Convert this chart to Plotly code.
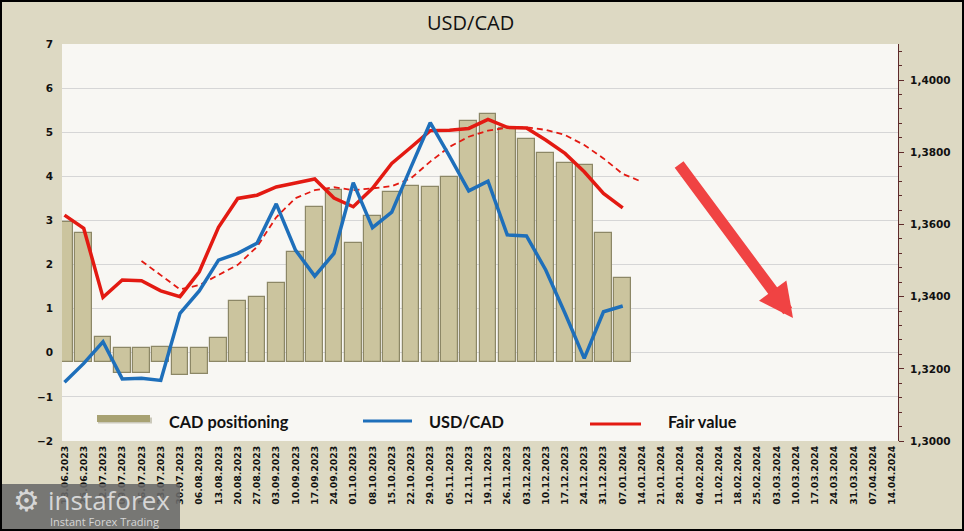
import plotly.graph_objects as go

# ---------------- data ----------------
dates = ["18.06.2023", "25.06.2023", "02.07.2023", "09.07.2023", "16.07.2023", "23.07.2023",
         "30.07.2023", "06.08.2023", "13.08.2023", "20.08.2023", "27.08.2023", "03.09.2023",
         "10.09.2023", "17.09.2023", "24.09.2023", "01.10.2023", "08.10.2023", "15.10.2023",
         "22.10.2023", "29.10.2023", "05.11.2023", "12.11.2023", "19.11.2023", "26.11.2023",
         "03.12.2023", "10.12.2023", "17.12.2023", "24.12.2023", "31.12.2023", "07.01.2024",
         "14.01.2024", "21.01.2024", "28.01.2024", "04.02.2024", "11.02.2024", "18.02.2024",
         "25.02.2024", "03.03.2024", "10.03.2024", "17.03.2024", "24.03.2024", "31.03.2024",
         "07.04.2024", "14.04.2024"]

cad_positioning = [2.97, 2.72, 0.36, -0.46, -0.46, 0.14, -0.50, -0.48, 0.34, 1.18,
                   1.27, 1.59, 2.28, 3.30, 3.69, 2.48, 3.09, 3.65, 3.78, 3.75,
                   3.99, 5.26, 5.41, 5.09, 4.84, 4.52, 4.30, 4.25, 2.72, 1.70]

usdcad = [1.3163, 1.3215, 1.3275, 1.3172, 1.3174, 1.3168, 1.3354, 1.3416, 1.3501, 1.3520,
          1.3548, 1.3657, 1.3529, 1.3457, 1.3520, 1.3716, 1.3591, 1.3634, 1.3759, 1.3882,
          1.3789, 1.3693, 1.3720, 1.3571, 1.3568, 1.3474, 1.3354, 1.3229, 1.3358, 1.3374]

fair_value = [1.3626, 1.3589, 1.3398, 1.3446, 1.3444, 1.3416, 1.3400, 1.3469, 1.3592, 1.3672,
              1.3681, 1.3704, 1.3715, 1.3726, 1.3673, 1.3649, 1.3700, 1.3769, 1.3814, 1.3860,
              1.3861, 1.3866, 1.3891, 1.3869, 1.3867, 1.3834, 1.3797, 1.3746, 1.3686, 1.3646]

# moving average of fair value (dashed), from 16.07.2023 to 14.01.2024
fair_avg = [1.3499, 1.3459, 1.3420, 1.3432, 1.3460, 1.3488, 1.3538, 1.3620, 1.3673, 1.3695,
            1.3703, 1.3695, 1.3700, 1.3706, 1.3728, 1.3774, 1.3815, 1.3843, 1.3860, 1.3868,
            1.3869, 1.3862, 1.3848, 1.3820, 1.3783, 1.3740, 1.3718]
fair_avg_start = 4

left_ticks = [-2, -1, 0, 1, 2, 3, 4, 5, 6, 7]
right_ticks = [1.30, 1.32, 1.34, 1.36, 1.38, 1.40]

# ---------------- style ----------------
W, H = 964, 531
PL, PR, PT, PB = 62, 898, 44, 441
PAPER_BG = "#DDD9C3"
PLOT_BG = "#F8F7F3"
BAR_FILL = "#CBC49E"
BAR_EDGE = "#8C8766"
BLUE = "#1E6FBA"
RED = "#E31A12"
AXIS_COL = "#5E2A2A"
TICK_FONT = dict(family="DejaVu Sans, Verdana", size=10.5, color="#111111", weight="bold")


def px(x):
    return (x - PL) / (PR - PL)


def py(y):
    return (PB - y) / (PB - PT)


# 3D-look bars: positive bars rise from a floor slightly below zero,
# negative bars hang from slightly above zero
bar_bases = [-0.2 if v >= 0 else 0.1 for v in cad_positioning]
bar_heights = [v - b for v, b in zip(cad_positioning, bar_bases)]

fig = go.Figure()

fig.add_trace(go.Bar(
    x=dates[:len(cad_positioning)], y=bar_heights, base=bar_bases,
    width=0.88, name="CAD positioning",
    marker=dict(color=BAR_FILL, line=dict(color=BAR_EDGE, width=1.2)),
    yaxis="y", showlegend=False,
))

fig.add_trace(go.Scatter(
    x=dates[fair_avg_start:fair_avg_start + len(fair_avg)], y=fair_avg,
    mode="lines", line=dict(color=RED, width=1.8, dash="6px,4px"),
    yaxis="y2", showlegend=False, name="Fair value (avg)",
))

fig.add_trace(go.Scatter(
    x=dates[:len(fair_value)], y=fair_value, mode="lines",
    line=dict(color=RED, width=3.5), yaxis="y2", showlegend=False, name="Fair value",
))

fig.add_trace(go.Scatter(
    x=dates[:len(usdcad)], y=usdcad, mode="lines",
    line=dict(color=BLUE, width=3.5), yaxis="y2", showlegend=False, name="USD/CAD",
))

shapes = []
annotations = []

# manual legend
shapes.append(dict(type="rect", xref="paper", yref="paper",
                   x0=px(98), x1=px(152), y0=py(423.5), y1=py(417.5),
                   fillcolor="rgba(120,115,80,0.35)", line=dict(width=0)))
shapes.append(dict(type="rect", xref="paper", yref="paper",
                   x0=px(97), x1=px(150), y0=py(422), y1=py(415),
                   fillcolor="#A8A272", line=dict(width=0)))
shapes.append(dict(type="line", xref="paper", yref="paper",
                   x0=px(363), x1=px(412), y0=py(421), y1=py(421),
                   line=dict(color=BLUE, width=3)))
shapes.append(dict(type="line", xref="paper", yref="paper",
                   x0=px(590), x1=px(641), y0=py(424), y1=py(424),
                   line=dict(color=RED, width=3)))
LEG_FONT = dict(family="Lato, Open Sans", size=16.3, color="#111111", weight="bold")
for txt, x in [("CAD positioning", 167), ("USD/CAD", 427), ("Fair value", 666)]:
    annotations.append(dict(text=txt, xref="paper", yref="paper", x=px(x), y=py(421.5),
                            xanchor="left", yanchor="middle", showarrow=False, font=LEG_FONT))

# big red arrow
annotations.append(dict(text="", xref="paper", yref="paper", x=px(793), y=py(318),
                        ax=678 - 793, ay=163 - 318, axref="pixel", ayref="pixel",
                        showarrow=True, arrowhead=2, arrowsize=0.62, arrowwidth=11,
                        arrowcolor="#F04343", standoff=0))

# title
annotations.append(dict(text="USD/CAD", xref="paper", yref="paper", x=px(470), y=py(22),
                        xanchor="center", yanchor="middle", showarrow=False,
                        font=dict(family="Open Sans, Lato", size=20, color="#111111")))

# watermark logo
shapes.append(dict(type="rect", xref="paper", yref="paper",
                   x0=px(0), x1=px(180), y0=py(531), y1=py(484),
                   fillcolor="rgba(105,105,105,0.88)", line=dict(width=0)))
annotations.append(dict(text="⚙", xref="paper", yref="paper", x=px(26), y=py(500),
                        xanchor="center", yanchor="middle", showarrow=False,
                        font=dict(family="DejaVu Sans", size=30, color="#D6D6D6")))
annotations.append(dict(text="instaforex", xref="paper", yref="paper", x=px(46), y=py(500),
                        xanchor="left", yanchor="middle", showarrow=False,
                        font=dict(family="Open Sans, Lato", size=26, color="#D6D6D6")))
annotations.append(dict(text="Instant Forex Trading", xref="paper", yref="paper", x=px(48),
                        y=py(521), xanchor="left", yanchor="middle", showarrow=False,
                        font=dict(family="Open Sans, Lato", size=11, color="#D6D6D6")))

# outer frame
shapes.append(dict(type="rect", xref="paper", yref="paper",
                   x0=px(1), x1=px(963), y0=py(530), y1=py(1),
                   line=dict(color="#000000", width=2), fillcolor="rgba(0,0,0,0)"))

fig.update_layout(
    width=W, height=H,
    margin=dict(l=PL, r=W - PR, t=PT, b=H - PB),
    paper_bgcolor=PAPER_BG, plot_bgcolor=PLOT_BG,
    separators=", ",
    bargap=0,
    showlegend=False,
    xaxis=dict(type="category", categoryorder="array", categoryarray=dates,
               range=[-0.13, 43.3], tickmode="array", tickvals=dates, ticktext=dates,
               tickangle=-90, tickfont=dict(family="DejaVu Sans, Verdana", size=9.3,
                                            color="#111111", weight="bold"),
               showgrid=False, zeroline=False, showline=False, ticks="",
               ticklabelstandoff=2),
    yaxis=dict(range=[-2, 7], tickvals=left_ticks, showgrid=True, gridcolor="#D6D6D6",
               gridwidth=1, zeroline=False, showline=False, ticks="",
               tickfont=TICK_FONT, ticklabelstandoff=8),
    yaxis2=dict(range=[1.30, 1.41], overlaying="y", side="right", tickvals=right_ticks,
                tickformat=".4f", showgrid=False, zeroline=False, showline=True,
                linecolor=AXIS_COL, linewidth=1, ticks="outside", ticklen=5,
                tickcolor=AXIS_COL,
                minor=dict(dtick=0.004, ticks="outside", ticklen=3, tickcolor=AXIS_COL),
                tickfont=TICK_FONT, ticklabelstandoff=4),
    shapes=shapes,
    annotations=annotations,
)

fig.write_html("out.html", config={"displayModeBar": False},
               post_script="document.body.style.margin='0';document.body.style.overflow='hidden';")
